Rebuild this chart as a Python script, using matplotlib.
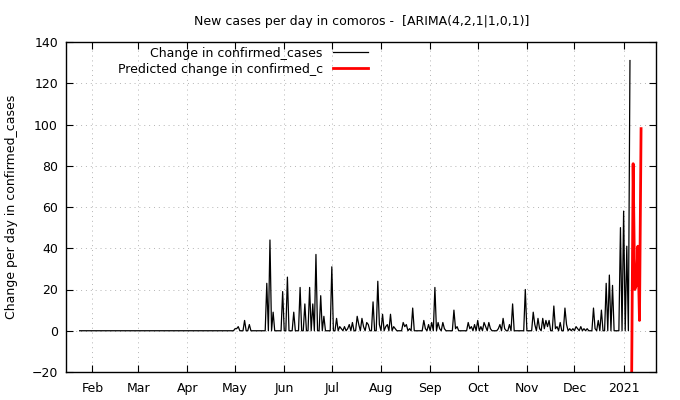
import matplotlib
matplotlib.use("Agg")
import matplotlib.pyplot as plt
import matplotlib.dates as mdates
import pandas as pd
import numpy as np

# days with a non-zero change (every other day of the range is 0)
spike_dates = ["2020-05-01", "2020-05-02", "2020-05-03", "2020-05-07", "2020-05-10",
               "2020-05-21", "2020-05-23", "2020-05-25", "2020-05-31", "2020-06-03",
               "2020-06-07", "2020-06-11", "2020-06-14", "2020-06-17", "2020-06-19",
               "2020-06-21", "2020-06-24", "2020-06-26", "2020-07-01", "2020-07-04",
               "2020-07-06", "2020-07-07", "2020-07-09", "2020-07-11", "2020-07-12",
               "2020-07-14", "2020-07-17", "2020-07-18", "2020-07-20", "2020-07-21",
               "2020-07-23", "2020-07-24", "2020-07-27", "2020-07-30", "2020-07-31",
               "2020-08-02", "2020-08-04", "2020-08-05", "2020-08-07", "2020-08-09",
               "2020-08-10", "2020-08-15", "2020-08-16", "2020-08-17", "2020-08-19",
               "2020-08-21", "2020-08-28", "2020-08-29", "2020-08-31", "2020-09-02",
               "2020-09-04", "2020-09-06", "2020-09-07", "2020-09-09", "2020-09-10",
               "2020-09-16", "2020-09-17", "2020-09-18", "2020-09-25", "2020-09-26",
               "2020-09-27", "2020-09-29", "2020-10-01", "2020-10-03", "2020-10-05",
               "2020-10-06", "2020-10-08", "2020-10-09", "2020-10-14", "2020-10-15",
               "2020-10-17", "2020-10-18", "2020-10-21", "2020-10-23", "2020-10-31",
               "2020-11-05", "2020-11-06", "2020-11-08", "2020-11-09", "2020-11-11",
               "2020-11-12", "2020-11-13", "2020-11-14", "2020-11-15", "2020-11-18",
               "2020-11-19", "2020-11-20", "2020-11-22", "2020-11-25", "2020-11-26",
               "2020-11-28", "2020-11-30", "2020-12-02", "2020-12-03", "2020-12-05",
               "2020-12-07", "2020-12-09", "2020-12-13", "2020-12-14", "2020-12-16",
               "2020-12-18", "2020-12-21", "2020-12-23", "2020-12-25", "2020-12-30",
               "2021-01-01", "2021-01-03", "2021-01-05"]
spike_values = [1, 1, 2, 5, 3,
                23, 44, 9, 19, 26,
                9, 21, 13, 21, 13,
                37, 17, 7, 31, 6,
                2, 1, 2, 1, 3,
                4, 7, 3, 6, 2,
                4, 3, 14, 24, 3,
                8, 2, 3, 8, 2,
                1, 4, 2, 3, 1,
                11, 5, 1, 3, 4,
                21, 4, 1, 4, 1,
                10, 1, 2, 4, 1,
                2, 3, 5, 2, 4,
                2, 4, 1, 1, 3,
                6, 1, 3, 13, 20,
                9, 3, 6, 1, 6,
                1, 5, 2, 5, 12,
                1, 2, 4, 11, 3,
                1, 1, 2, 1, 2,
                1, 1, 11, 1, 5,
                10, 23, 27, 22, 50,
                58, 41, 131]

pred_dates = ["2021-01-06", "2021-01-07", "2021-01-08", "2021-01-09",
              "2021-01-10", "2021-01-11", "2021-01-12"]
pred_values = [-30, 81, 20, 22, 41, 5, 98]

days = pd.date_range("2020-01-24", "2021-01-05", freq="D")
cases = pd.Series(0.0, index=days)
cases[pd.to_datetime(spike_dates)] = spike_values
pred = pd.Series(pred_values, index=pd.to_datetime(pred_dates))

plt.rcParams['font.family'] = ['DejaVu Sans']
plt.rcParams['font.size'] = 9

fig = plt.figure(figsize=(6.8, 4.0), dpi=100)
ax = fig.add_axes([0.0975, 0.07, 0.8676, 0.825])

ax.plot(cases.index, cases.values, color="black", lw=0.9, label="Change in confirmed_cases")
ax.plot(pred.index, pred.values, color="red", lw=2.0, label="Predicted change in confirmed_c")

ax.set_xlim(pd.Timestamp("2020-01-15 14:00"), pd.Timestamp("2021-01-21 14:00"))
ax.set_ylim(-20, 140)
ax.set_yticks(np.arange(-20, 141, 20))

def format_func(value, tick_number):
    date = mdates.num2date(value)
    if date.month == 1:
        return str(date.year)
    return date.strftime("%b")

ax.xaxis.set_major_locator(mdates.MonthLocator())
ax.xaxis.set_major_formatter(plt.FuncFormatter(format_func))

ax.tick_params(direction="in", top=True, right=True, length=5, width=0.8, labelsize=9)
ax.tick_params(axis="x", pad=7)
ax.tick_params(axis="y", pad=6)
for s in ax.spines.values():
    s.set_linewidth(1.0)

ax.grid(True, color="#b4b4b4", linestyle=(0, (1, 4)), linewidth=0.7)

ax.set_ylabel("Change per day in confirmed_cases", fontsize=9, labelpad=10)
ax.set_title("New cases per day in comoros -  [ARIMA(4,2,1|1,0,1)]", fontsize=9, pad=12)

leg = ax.legend(loc="upper left", bbox_to_anchor=(0.068, 1.02), frameon=False,
                markerfirst=False, handlelength=2.8, handletextpad=0.8,
                labelspacing=0.25, fontsize=9)
for t in leg.get_texts():
    t.set_ha("right")
leg._legend_box.align = "right"

fig.savefig("out.png", dpi=100)
